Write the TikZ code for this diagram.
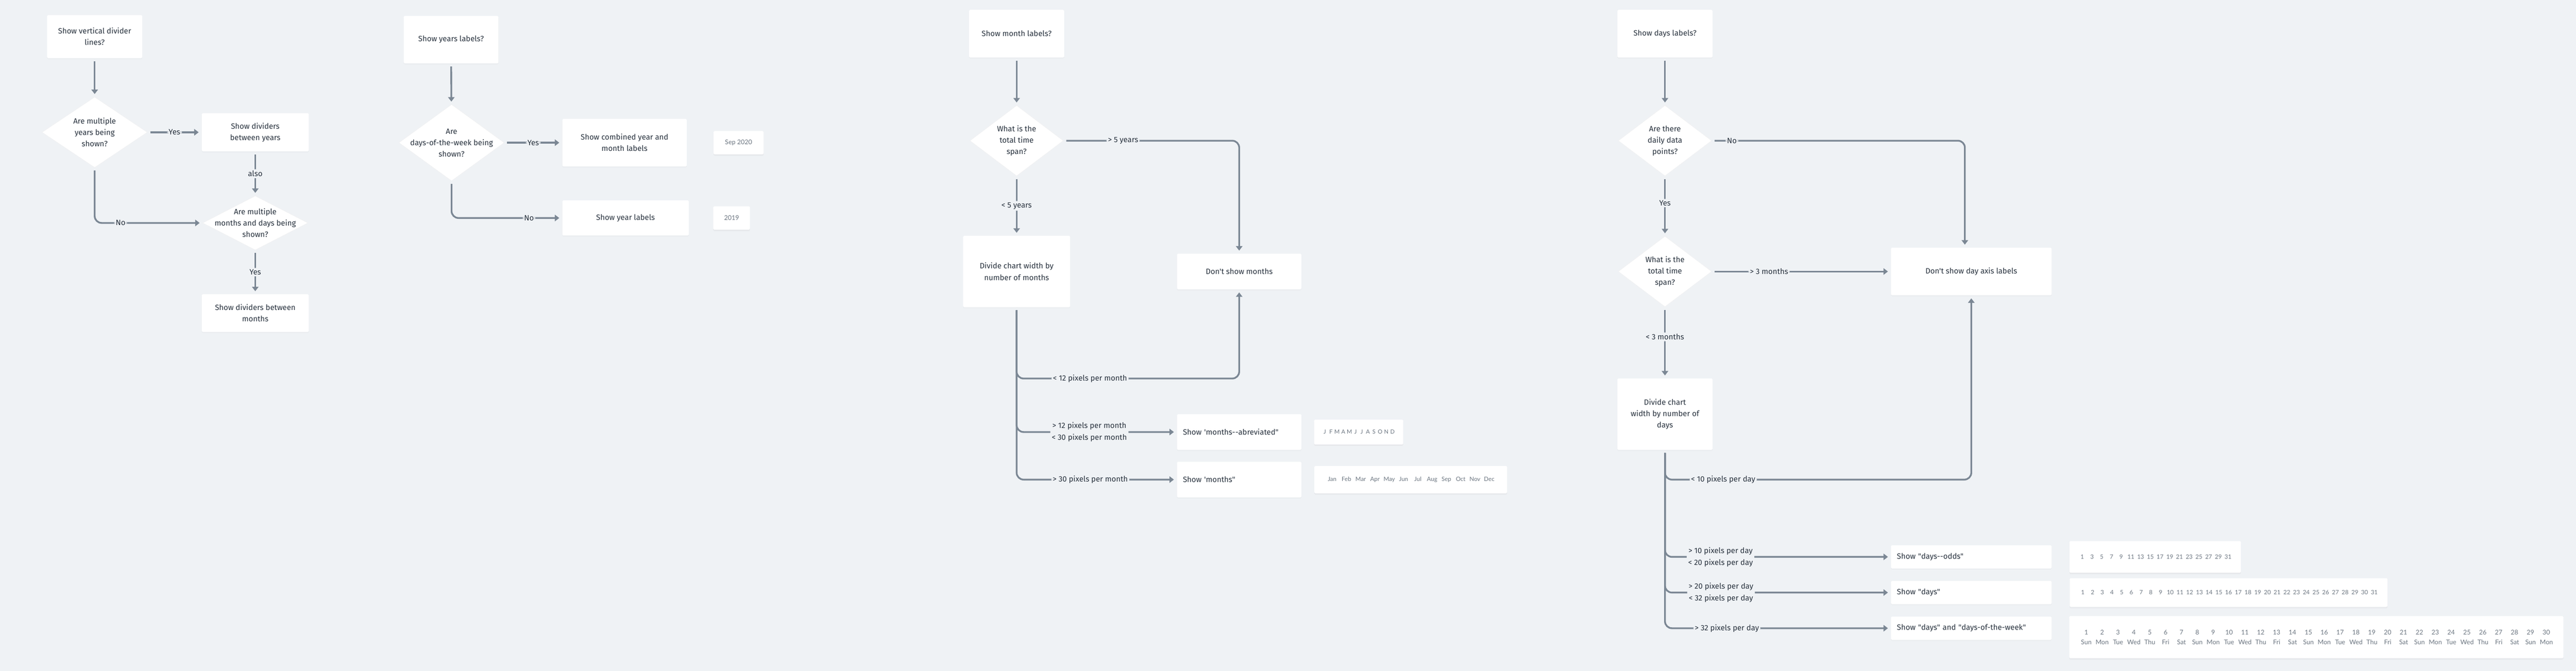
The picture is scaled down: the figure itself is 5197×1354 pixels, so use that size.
\documentclass[tikz,border=0pt]{standalone}
\usepackage{fontspec}
\setmainfont{Fira Sans}[Ligatures=TeXOff]
\newfontfamily\smpfont{Lato}
\usepackage{xcolor}
\usepackage{tikz}
\usetikzlibrary{arrows.meta,shapes.geometric,shadows}

\definecolor{bgc}{HTML}{EFF2F5}
\definecolor{lnc}{HTML}{7B8794}
\definecolor{txc}{HTML}{27313D}
\definecolor{smc}{HTML}{6B7580}

\begin{document}
\begin{tikzpicture}[x=1pt, y=-1pt,
                    font=\fontsize{15.5}{23}\selectfont, text=txc,
                    blk/.style n args={2}{rectangle, fill=white,
                    minimum width=#1, minimum height=#2,
                    rounded corners=2pt, inner sep=0pt, align=center,
                    drop shadow={opacity=0.05,shadow xshift=0pt,shadow yshift=-2pt}},
                    lft/.style={align=left, text width=#1},
                    dmd/.style n args={3}{diamond, fill=white, draw=black!6,
                    minimum width=#1, minimum height=#2, inner sep=0pt,
                    label={[align=center]center:#3}},
                    smp/.style n args={2}{rectangle, fill=white, text=smc,
                    minimum width=#1, minimum height=#2,
                    rounded corners=2pt, inner sep=0pt,
                    font=\smpfont\fontsize{13}{20}\selectfont,
                    drop shadow={opacity=0.07,shadow xshift=0pt,shadow yshift=-3pt}},
                    ar/.style={lnc, line width=3.5pt, rounded corners=14pt,
                    -{Triangle[width=13pt,length=9pt]},
                    shorten >=6pt, shorten <=6pt},
                    lbl/.style={fill=bgc, inner sep=3pt, text=txc, align=center,
                    font=\fontsize{15.5}{24}\selectfont}]
    \useasboundingbox (0,0) rectangle (5197,1354);
    \fill[bgc] (0,0) rectangle (5197,1354);

    \node[blk={192}{87}] (n100) at (191,74) {Show vertical divider\\lines?};
    \node[dmd={212}{142}{Are multiple\\years being\\shown?}] (n101) at (191,267) {};
    \node[blk={216}{77}] (n102) at (515,267) {Show dividers\\between years};
    \node[dmd={212}{109}{Are multiple\\months and days being\\shown?}] (n103) at (515,450) {};
    \node[blk={216}{76}] (n104) at (515,632) {Show dividers between\\months};
    \draw[ar] (n100) -- (n101);
    \draw[ar] (n101) -- node[lbl]{Yes} (n102);
    \draw[ar] (n102) -- node[lbl]{also} (n103);
    \draw[ar] (n101) |- node[lbl,pos=0.62]{No} (n103);
    \draw[ar] (n103) -- node[lbl]{Yes} (n104);

    \node[blk={191}{96}] (n200) at (910,80) {Show years labels?};
    \node[dmd={212}{154}{Are\\days-of-the-week being\\shown?}] (n201) at (911,288) {};
    \node[blk={251}{96}] (n202) at (1260,288) {Show combined year and\\month labels};
    \node[smp={101}{47}] (n203) at (1490,288) {Sep 2020};
    \node[blk={255}{71}] (n204) at (1262,440) {Show year labels};
    \node[smp={74}{47}] (n205) at (1476,440) {2019};
    \draw[ar] (n200) -- (n201);
    \draw[ar] (n201) -- node[lbl]{Yes} (n202);
    \draw[ar] (n201) |- node[lbl,pos=0.85]{No} (n204);

    \node[blk={192}{96}] (n300) at (2051,68) {Show month labels?};
    \node[dmd={188}{142}{What is the\\total time\\span?}] (n301) at (2051,284) {};
    \node[blk={216}{144}] (n302) at (2051,548) {Divide chart width by\\number of months};
    \node[blk={251}{72}] (n303) at (2500,548) {Don't show months};
    \node[blk={251}{72}, lft=227pt] (n304) at (2500,872) {Show 'months--abreviated"};
    \node[smp={180}{50}, font=\smpfont\fontsize{11.5}{20}\selectfont] (n305) at (2741,872)
        {\foreach \m in {J,F,M,A,M,J,J,A,S,O,N,D}{\makebox[12.4pt]{\m}}};
    \node[blk={251}{72}, lft=227pt] (n306) at (2500,968) {Show 'months"};
    \node[smp={389}{55}, font=\smpfont\fontsize{12}{20}\selectfont] (n307) at (2846,968)
        {\foreach \m in {Jan,Feb,Mar,Apr,May,Jun,Jul,Aug,Sep,Oct,Nov,Dec}{\makebox[28.8pt]{\m}}};
    \draw[ar] (n300) -- (n301);
    \draw[ar] (n301) -- node[lbl]{< 5 years} (n302);
    \draw[ar] (n301) -| node[lbl,pos=0.17]{> 5 years} (n303);
    \draw[ar] (n302) -- (2051,764) -| node[lbl,pos=0.165]{< 12 pixels per month} (n303);
    \draw[ar] (n302) |- node[lbl,pos=0.727]{> 12 pixels per month\\< 30 pixels per month} (n304);
    \draw[ar] (n302) |- node[lbl,pos=0.73]{> 30 pixels per month} (n306);

    \node[blk={192}{96}] (n400) at (3359,68) {Show days labels?};
    \node[dmd={188}{142}{Are there\\daily data\\points?}] (n401) at (3359,284) {};
    \node[dmd={188}{142}{What is the\\total time\\span?}] (n402) at (3359,548) {};
    \node[blk={324}{96}] (n403) at (3977,548) {Don't show day axis labels};
    \node[blk={192}{144}] (n404) at (3359,836) {Divide chart\\width by number of\\days};
    \node[blk={324}{47}, lft=300pt] (n405) at (3977,1124) {Show "days--odds"};
    \node[smp={346}{64}, font=\smpfont\fontsize{12}{20}\selectfont] (n406) at (4348,1124)
        {\foreach \d in {1,3,...,31}{\makebox[19.6pt]{\d}}};
    \node[blk={324}{47}, lft=300pt] (n407) at (3977,1196) {Show "days"};
    \node[smp={641}{58}, font=\smpfont\fontsize{12}{20}\selectfont] (n408) at (4496,1196)
        {\foreach \d in {1,...,31}{\makebox[19.6pt]{\d}}};
    \node[blk={324}{47}, lft=300pt] (n409) at (3977,1268) {Show "days" and "days-of-the-week"};
    \node[smp={997}{85}, align=center] (n410) at (4673,1286)
        {\foreach \d in {1,...,30}{\makebox[32pt]{\d}}\\
         \foreach \w in {Sun,Mon,Tue,Wed,Thu,Fri,Sat,Sun,Mon,Tue,Wed,Thu,Fri,Sat,Sun,Mon,Tue,Wed,Thu,Fri,Sat,Sun,Mon,Tue,Wed,Thu,Fri,Sat,Sun,Mon}{\makebox[32pt]{\w}}};
    \draw[ar] (n400) -- (n401);
    \draw[ar] (n401) -- node[lbl,pos=0.45]{Yes} (n402);
    \draw[ar] (n401) -| node[lbl,pos=0.04]{No} ([xshift=-13pt]n403.north);
    \draw[ar] (n402) -- node[lbl,pos=0.32]{> 3 months} (n403);
    \draw[ar] (n402) -- node[lbl,pos=0.42]{< 3 months} (n404);
    \draw[ar] (n404) -- (3359,968) -| node[lbl,pos=0.095]{< 10 pixels per day} (n403);
    \draw[ar] (n404) |- node[lbl,pos=0.623]{> 10 pixels per day\\< 20 pixels per day} (n405);
    \draw[ar] (n404) |- node[lbl,pos=0.624]{> 20 pixels per day\\< 32 pixels per day} (n407);
    \draw[ar] (n404) |- node[lbl,pos=0.637]{> 32 pixels per day} (n409);
\end{tikzpicture}
\end{document}
